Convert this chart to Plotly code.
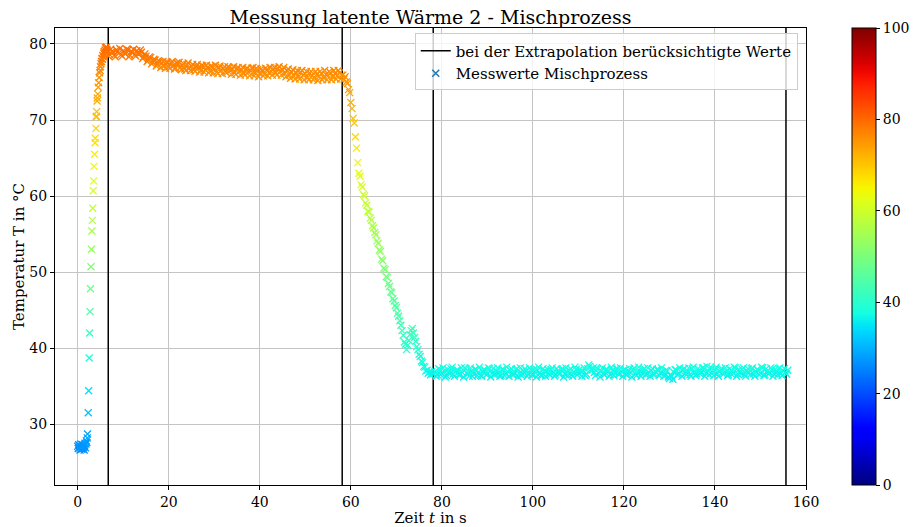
import numpy as np
import plotly.graph_objects as go

# ---------------- data ----------------
# start cluster: sampling every 0.1 s starting at t = 0
start_t0, start_dt = 0.0, 0.1
start_T = [27.1, 26.8, 27.3, 26.9, 27.2, 26.6, 27.0, 27.4, 26.8, 26.7,
           27.1, 27.3, 26.9, 27.0, 26.6, 27.2, 27.5, 26.9, 27.4, 27.8,
           27.6, 28.2]

# rise (individual readable markers)
rise_t = [2.15, 2.3, 2.4, 2.5, 2.6, 2.7, 2.8, 2.9, 3.0, 3.1, 3.2, 3.3, 3.4,
          3.5, 3.55, 3.7, 3.8, 3.85, 4.0, 4.05, 4.1, 4.15, 4.25, 4.3, 4.4,
          4.5, 4.6, 4.7, 4.8, 4.9, 5.0, 5.1, 5.2, 5.3, 5.4, 5.5, 5.6, 5.7,
          5.8, 5.9, 6.0, 6.1, 6.2, 6.3, 6.4]
rise_T = [28.7, 31.5, 34.4, 38.7, 42.0, 44.8, 47.8, 50.7, 53.0, 55.4, 56.8,
          58.4, 60.7, 62.0, 63.9, 65.5, 67.0, 67.6, 68.9, 70.4, 70.5, 71.1,
          72.5, 72.9, 73.4, 74.3, 74.9, 75.6, 76.2, 76.5, 77.0, 77.4, 77.7,
          78.1, 78.0, 78.5, 78.3, 78.8, 79.0, 78.6, 79.2, 79.5, 78.9, 79.6,
          79.3]

# first plateau: every 0.5 s from 6.5 s
plat1_t0, plat1_dt = 6.5, 0.5
plat1_T = [79.1, 78.6, 79.0, 78.5, 79.2, 78.8, 78.6, 79.1, 78.7, 79.2,
           78.5, 78.9, 78.6, 79.1, 78.7, 78.9, 78.3, 78.4, 77.9, 78.2,
           77.6, 77.9, 77.3, 77.7, 77.5, 77.1, 77.6, 77.0, 77.5, 77.2,
           76.8, 77.4, 76.9, 77.2, 76.7, 77.3, 76.8, 77.1, 76.6, 77.0,
           76.9, 76.5, 77.1, 76.6, 76.9, 76.4, 77.0, 76.7, 76.3, 76.9,
           76.5, 76.8, 76.3, 77.0, 76.5, 76.7, 76.2, 76.8, 76.4, 76.6,
           76.1, 76.7, 76.3, 76.5, 76.9, 76.2, 76.6, 76.1, 76.5, 76.0,
           76.6, 76.2, 76.4, 76.7, 76.2, 76.8, 76.4, 76.6, 76.1, 76.5,
           75.9, 76.3, 75.8, 76.2, 75.7, 76.3, 75.9, 76.1, 75.6, 76.2,
           75.8, 75.5, 76.0, 75.7, 76.1, 75.6, 76.0, 75.8, 76.2, 75.7,
           76.1, 75.8, 76.2, 75.9]
# first plateau, intermediate samples: every 0.5 s from 6.75 s
plat1b_t0, plat1b_dt = 6.75, 0.5
plat1b_T = [78.4, 79.3, 78.9, 78.3, 79.0, 79.4, 78.4, 78.8, 79.3, 78.3,
            79.0, 79.3, 78.4, 78.8, 79.2, 78.1, 78.7, 77.7, 78.3, 77.4,
            78.0, 77.1, 77.8, 76.9, 77.7, 76.8, 77.6, 76.8, 77.7, 76.7,
            77.5, 77.6, 76.6, 77.4, 76.5, 77.5, 76.5, 77.3, 76.4, 77.3,
            76.3, 77.2, 76.3, 77.2, 76.2, 77.1, 76.2, 77.2, 76.1, 77.1,
            76.1, 77.0, 76.2, 76.9, 76.0, 77.0, 76.0, 76.9, 75.9, 76.9,
            75.9, 76.8, 75.8, 76.8, 75.8, 76.8, 75.7, 76.7, 75.8, 76.8,
            75.8, 76.9, 75.9, 76.9, 75.9, 77.0, 75.9, 76.9, 75.7, 76.7,
            75.5, 76.6, 75.4, 76.5, 75.4, 76.5, 75.3, 76.4, 75.3, 76.4,
            75.3, 76.4, 75.2, 76.4, 75.3, 76.5, 75.3, 76.4, 75.3, 76.5,
            75.4, 76.5, 75.4]

# cooling / mixing drop: every 0.25 s from 58.25 s
drop_t0, drop_dt = 58.25, 0.25
drop_T = [75.9, 75.4, 75.7, 75.0, 74.8, 74.0, 73.6, 72.3, 71.5, 70.2,
          69.6, 67.8, 66.3, 64.4, 63.0, 62.6, 61.5, 61.2, 60.2, 60.0,
          59.1, 58.8, 58.0, 57.9, 57.1, 56.8, 56.1, 55.8, 55.2, 54.9,
          54.1, 53.8, 52.9, 52.7, 51.7, 51.5, 50.5, 50.3, 49.4, 49.3,
          48.5, 48.1, 47.4, 47.3, 46.5, 46.2, 45.6, 45.3, 44.6, 44.2,
          43.6, 43.0, 42.3, 41.7, 40.8, 40.5, 39.8, 40.4, 41.0, 41.8,
          42.3, 42.6, 42.0, 41.4, 40.9, 40.2, 39.8, 39.2, 38.9, 38.3,
          38.1, 37.6, 37.5, 37.0, 37.1, 36.7, 36.9, 36.5, 36.9, 36.6]

# final plateau: every 0.5 s from 78.5 s
plat2_t0, plat2_dt = 78.5, 0.5
plat2_T = [36.9, 36.5, 37.2, 36.7, 37.0, 36.4, 36.8, 37.3, 36.6, 36.9,
           37.1, 36.5, 36.8, 37.4, 36.7, 36.3, 37.0, 36.6, 37.2, 36.8,
           36.4, 36.9, 37.1, 36.6, 37.3, 36.7, 36.5, 37.0, 36.8, 36.4,
           37.2, 36.6, 36.9, 37.1, 36.5, 36.8, 37.3, 36.7, 36.4, 36.9,
           37.0, 36.6, 37.2, 36.5, 36.8, 37.1, 36.7, 36.4, 37.0, 36.9,
           36.6, 37.2, 36.8, 36.5, 37.0, 36.7, 37.3, 36.6, 36.9, 37.1,
           36.5, 36.8, 37.2, 36.7, 36.9, 37.0, 36.4, 37.3, 37.6, 37.1,
           36.8, 37.4, 36.7, 37.0, 36.6, 37.2, 36.9, 36.5, 37.1, 36.8,
           37.3, 36.6, 36.9, 37.1, 36.5, 37.0, 36.8, 37.2, 36.6, 36.9,
           37.0, 36.7, 37.3, 36.6, 36.8, 37.1, 36.5, 36.9, 37.2, 36.7,
           36.9, 36.4, 37.0, 36.0, 36.3, 36.8, 37.1, 36.6, 36.9, 37.2,
           36.7, 37.0, 36.5, 37.3, 36.8, 36.6, 37.1, 36.9, 37.4, 36.7,
           37.0, 37.5, 36.8, 37.2, 36.6, 36.9, 37.3, 36.7, 37.0, 36.5,
           37.1, 36.8, 37.4, 36.6, 36.9, 37.2, 36.5, 37.0, 36.8, 37.3,
           36.6, 36.9, 37.1, 36.7, 37.4, 36.5, 37.0, 36.8, 37.2, 36.6,
           36.9, 37.3, 36.7, 37.0, 36.8, 37.1]
# final plateau, intermediate samples: every 0.5 s from 78.75 s
plat2b_t0, plat2b_dt = 78.75, 0.5
plat2b_T = [36.3, 37.3, 36.5, 37.4, 36.2, 37.2, 36.6, 37.5, 36.3, 37.1,
            36.5, 37.4, 36.2, 37.3, 36.6, 37.4, 36.3, 37.2, 36.4, 37.5,
            36.3, 37.2, 36.5, 37.4, 36.2, 37.3, 36.6, 37.4, 36.3, 37.2,
            36.4, 37.5, 36.3, 37.3, 36.5, 37.2, 36.2, 37.4, 36.6, 37.3,
            36.3, 37.4, 36.5, 37.2, 36.2, 37.5, 36.4, 37.3, 36.3, 37.2,
            36.5, 37.4, 36.3, 37.3, 36.6, 37.2, 36.2, 37.4, 36.4, 37.3,
            36.3, 37.5, 36.5, 37.2, 36.3, 37.4, 36.6, 37.8, 37.2, 37.4,
            36.4, 37.3, 36.2, 37.4, 36.5, 37.2, 36.3, 37.5, 36.4, 37.3,
            36.6, 37.4, 36.3, 37.2, 36.5, 37.3, 36.2, 37.4, 36.4, 37.5,
            36.3, 37.2, 36.5, 37.4, 36.3, 37.3, 36.6, 37.2, 36.4, 37.4,
            36.3, 37.1, 36.2, 36.4, 35.9, 37.2, 36.5, 37.4, 36.3, 37.3,
            36.5, 37.4, 36.3, 37.5, 36.4, 37.3, 36.6, 37.4, 36.3, 37.6,
            36.5, 37.3, 36.4, 37.5, 36.3, 37.2, 36.6, 37.4, 36.4, 37.3,
            36.5, 37.5, 36.3, 37.2, 36.6, 37.4, 36.3, 37.3, 36.5, 37.4,
            36.3, 37.2, 36.5, 37.5, 36.4, 37.3, 36.6, 37.4, 36.3, 37.2,
            36.5, 37.4, 36.4, 37.3, 36.6]

# bounds of the values used for the extrapolation (vertical lines)
extrap_bounds = [6.7, 58.1, 78.1, 155.6]

colorbar_ticks = [0, 20, 40, 60, 80, 100]

# ---------------- assemble ----------------
def seg(t0, dt, vals):
    return list(t0 + dt * np.arange(len(vals)))

t_all = (seg(start_t0, start_dt, start_T) + rise_t
         + seg(plat1_t0, plat1_dt, plat1_T) + seg(plat1b_t0, plat1b_dt, plat1b_T)
         + seg(drop_t0, drop_dt, drop_T)
         + seg(plat2_t0, plat2_dt, plat2_T) + seg(plat2b_t0, plat2b_dt, plat2b_T))
T_all = start_T + rise_T + plat1_T + plat1b_T + drop_T + plat2_T + plat2b_T

# matplotlib "jet" colormap
def mpl_jet():
    r = ([0, 0.35, 0.66, 0.89, 1], [0, 0, 1, 1, 0.5])
    g = ([0, 0.125, 0.375, 0.64, 0.91, 1], [0, 0, 1, 1, 0, 0])
    b = ([0, 0.11, 0.34, 0.65, 1], [0.5, 1, 1, 0, 0])
    scale = []
    for v in np.linspace(0, 1, 41):
        rr = np.interp(v, *r); gg = np.interp(v, *g); bb = np.interp(v, *b)
        scale.append([float(v), f"rgb({int(round(rr*255))},{int(round(gg*255))},{int(round(bb*255))})"])
    return scale

jet = mpl_jet()
FONT = "DejaVu Serif"
x_range = [-5, 160]
y_range = [22, 82.1]

fig = go.Figure()

# vertical lines
vx, vy = [], []
for xb in extrap_bounds:
    vx += [xb, xb, None]
    vy += [y_range[0], y_range[1], None]
fig.add_trace(go.Scatter(x=vx, y=vy, mode="lines", line=dict(color="black", width=1.5),
                         name="bei der Extrapolation berücksichtigte Werte"))

fig.add_trace(go.Scatter(
    x=t_all, y=T_all, mode="markers", showlegend=False,
    marker=dict(symbol="x-thin", size=7, color=T_all, colorscale=jet, cmin=0, cmax=100,
                line=dict(width=1.3, color=T_all, colorscale=jet, cmin=0, cmax=100),
                showscale=True,
                colorbar=dict(thickness=24, len=1, lenmode="fraction", y=0.5, yanchor="middle",
                              x=1.061, xanchor="left", xpad=0, ypad=0,
                              outlinewidth=1, outlinecolor="black",
                              tickvals=colorbar_ticks, ticks="outside", ticklen=4,
                              tickcolor="black",
                              tickfont=dict(family=FONT, size=14, color="black"))),
))

# legend entry for measured values
fig.add_trace(go.Scatter(x=[None], y=[None], mode="markers", name="Messwerte Mischprozess",
                         marker=dict(symbol="x-thin", size=7, color="#1f77b4",
                                     line=dict(width=1.5, color="#1f77b4"))))

axis_common = dict(showline=True, linecolor="black", linewidth=1, mirror=True,
                   ticks="outside", ticklen=4, tickcolor="black",
                   showgrid=True, gridcolor="#c4c4c4", gridwidth=1, zeroline=False,
                   tickfont=dict(family=FONT, size=14, color="black"))

fig.update_layout(
    width=913, height=527,
    margin=dict(l=55, r=107, t=28, b=42, autoexpand=False),
    paper_bgcolor="white", plot_bgcolor="white",
    font=dict(family=FONT, color="black"),
    title=dict(text="Messung latente Wärme 2 - Mischprozess", x=0.5, xref="paper",
               y=1 - 17 / 527, yref="container", yanchor="middle", xanchor="center",
               font=dict(family=FONT, size=19, color="black")),
    xaxis=dict(range=x_range, tickvals=[0, 20, 40, 60, 80, 100, 120, 140, 160],
               title=dict(text="Zeit <i>t</i> in s", standoff=2,
                          font=dict(family=FONT, size=15, color="black")),
               **axis_common),
    yaxis=dict(range=y_range, tickvals=[30, 40, 50, 60, 70, 80],
               title=dict(text="Temperatur T in °C", standoff=1,
                          font=dict(family=FONT, size=15, color="black")),
               **axis_common),
    legend=dict(x=0.989, xanchor="right", y=0.988, yanchor="top",
                bgcolor="rgba(255,255,255,0.8)", bordercolor="#cccccc", borderwidth=1,
                font=dict(family=FONT, size=15, color="black"), itemwidth=30,
                tracegroupgap=0),
)

fig.write_html("out.html")
